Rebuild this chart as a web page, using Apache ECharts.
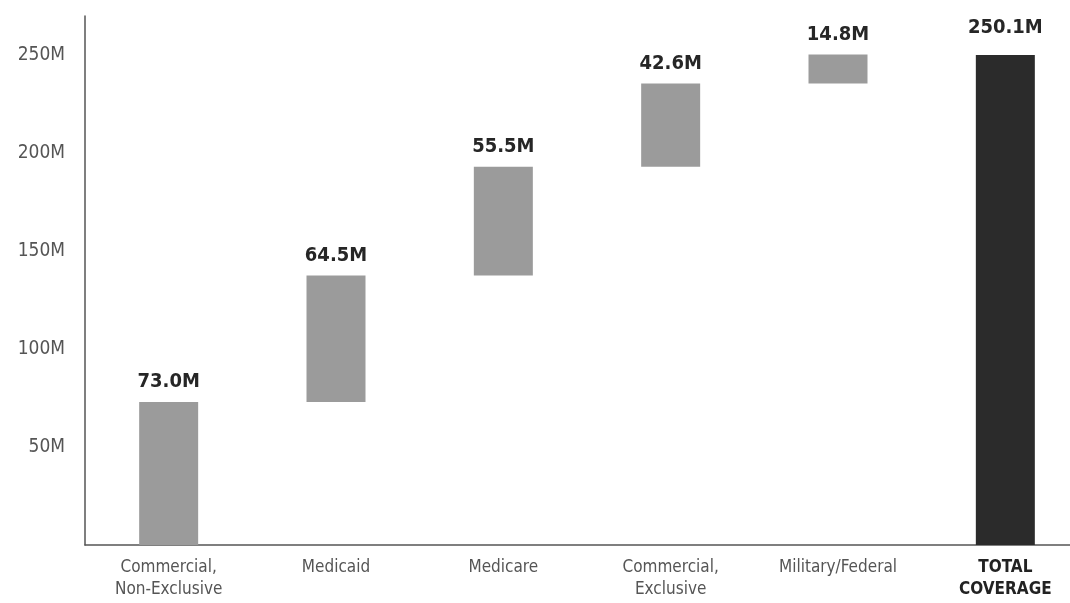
<!DOCTYPE html>
<html>
<head>
<meta charset="utf-8">
<script src="https://cdn.jsdelivr.net/npm/echarts@6/dist/echarts.min.js"></script>
<style>
html,body{margin:0;padding:0;background:#fff;}
#c{width:1070px;height:603px;}
</style>
</head>
<body>
<div id="c"></div>
<script>
var categories = ['Commercial,\nNon-Exclusive', 'Medicaid', 'Medicare', 'Commercial,\nExclusive', 'Military/Federal', 'TOTAL\nCOVERAGE'];
var values = [73.0, 64.5, 55.5, 42.6, 14.8, 250.1];
var isTotal = [false, false, false, false, false, true];
var yTicks = [50, 100, 150, 200, 250];

var FONT = '"DejaVu Sans Condensed", "DejaVu Sans", sans-serif';

// waterfall bases: running sum of previous steps, totals start at 0
var bases = [];
var run = 0;
for (var i = 0; i < values.length; i++) {
  if (isTotal[i]) { bases.push(0); }
  else { bases.push(Math.round(run * 10) / 10); run += values[i]; }
}

var chart = echarts.init(document.getElementById('c'), null, {renderer: 'canvas'});
chart.setOption({
  animation: false,
  grid: {left: 85, top: 16, right: -19, bottom: 58, containLabel: false, outerBoundsMode: 'none'},
  xAxis: {
    type: 'category',
    data: categories,
    axisLine: {lineStyle: {color: '#555', width: 1.5}},
    axisTick: {show: false},
    axisLabel: {
      interval: 0,
      margin: 12,
      fontFamily: FONT,
      fontSize: 17,
      lineHeight: 22,
      color: '#555',
      formatter: function (v, idx) { return isTotal[idx] ? '{b|' + v.split('\n').join('}\n{b|') + '}' : v; },
      rich: {b: {fontFamily: FONT, fontSize: 17, fontWeight: 'bold', color: '#222', lineHeight: 22}}
    }
  },
  yAxis: {
    type: 'value',
    min: 0,
    max: 270,
    interval: 50,
    splitLine: {show: false},
    axisTick: {show: false},
    axisLine: {show: true, lineStyle: {color: '#555', width: 1.5}},
    axisLabel: {
      margin: 20,
      fontFamily: FONT,
      fontSize: 19,
      color: '#555',
      formatter: function (v) { return yTicks.indexOf(v) >= 0 ? v + 'M' : ''; }
    }
  },
  series: [
    {
      type: 'bar',
      stack: 'w',
      data: bases,
      barWidth: 59,
      itemStyle: {color: 'transparent'},
      silent: true
    },
    {
      type: 'bar',
      stack: 'w',
      barWidth: 59,
      data: values.map(function (v, i) {
        return {
          value: v,
          itemStyle: {color: isTotal[i] ? '#2b2b2b' : '#9b9b9b'},
          label: {distance: isTotal[i] ? 17 : 10}
        };
      }),
      label: {
        show: true,
        position: 'top',
        fontFamily: FONT,
        fontSize: 20,
        fontWeight: 'bold',
        color: '#262626',
        formatter: function (p) { return p.value.toFixed(1) + 'M'; }
      }
    }
  ]
});
</script>
</body>
</html>
